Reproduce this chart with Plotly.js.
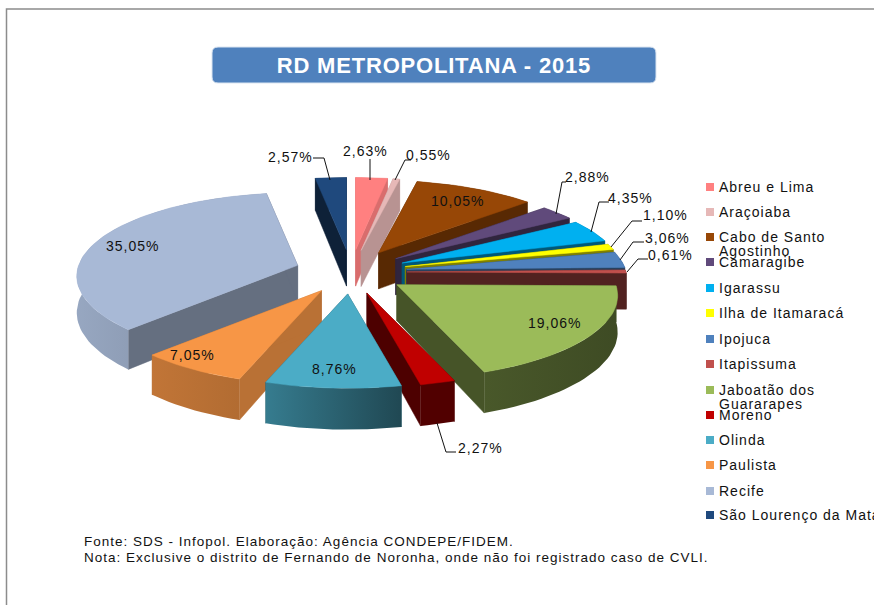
<!DOCTYPE html>
<html><head><meta charset="utf-8">
<script src="https://cdn.plot.ly/plotly-3.0.1.min.js"></script>
<style>
html,body{margin:0;padding:0;background:#fff;overflow:hidden}
.annotation-text{letter-spacing:1px}
.gtitle{letter-spacing:.8px}
</style></head><body><div id="chart" style="width:874px;height:605px"></div>
<script>
const categories = ["Abreu e Lima","Araçoiaba","Cabo de Santo Agostinho","Camaragibe","Igarassu","Ilha de Itamaracá","Ipojuca","Itapissuma","Jaboatão dos Guararapes","Moreno","Olinda","Paulista","Recife","São Lourenço da Mata"];
const legendLabels = [["Abreu e Lima"],["Araçoiaba"],["Cabo de Santo","Agostinho"],["Camaragibe"],["Igarassu"],["Ilha de Itamaracá"],["Ipojuca"],["Itapissuma"],["Jaboatão dos","Guararapes"],["Moreno"],["Olinda"],["Paulista"],["Recife"],["São Lourenço da Mata"]];
const values = [2.63,0.55,10.05,2.88,4.35,1.10,3.06,0.61,19.06,2.27,8.76,7.05,35.05,2.57];
const colors = ["#FF8080","#E6B8B7","#974706","#604A7B","#00B0F0","#FFFF00","#4F81BD","#C0504D","#9BBB59","#C00000","#4BACC6","#F79646","#A8B9D6","#1F497D"];
const cutShade = [.85,.8,.58,.5,.5,.5,.5,.42,.45,.4,.55,.75,.6,.45];
const arcShadeL = [.85,.8,.58,.5,.5,.5,.5,.42,.47,.42,.72,.78,.9,.45];
const arcShadeR = [.85,.8,.58,.5,.5,.5,.5,.42,.40,.42,.42,.72,.72,.45];
const drawOrder = [13,0,1,2,3,4,5,6,7,8,12,11,9,10];

// projection of the exploded 3-D pie, in pixel units of the hidden axes
const C = {x:351,y:272,ex:56,ey:22,rx:219,ry:82,p:.13,depth:36};
const rad = d => d*Math.PI/180;
const persp = t => 1/(1+C.p*Math.cos(t));
function shade(hex,f){
  const n=parseInt(hex.slice(1),16);
  return `rgb(${Math.round((n>>16&255)*f)},${Math.round((n>>8&255)*f)},${Math.round((n&255)*f)})`;
}
const total = values.reduce((a,b)=>a+b,0);
let acc=0;
const slices = values.map((v,i)=>{
  const a0=acc/total*2*Math.PI; acc+=v; const a1=acc/total*2*Math.PI;
  const m=(a0+a1)/2;
  const ax=C.x+C.ex*Math.sin(m), ay=C.y-C.ey*Math.cos(m);
  const arc=[]; const n=Math.max(4,Math.ceil((a1-a0)/rad(2)));
  for(let k=0;k<=n;k++){
    const t=a0+(a1-a0)*k/n, s=persp(t);
    arc.push({x:ax+C.rx*Math.sin(t)*s,y:ay-C.ry*Math.cos(t)*s,d:C.depth*s});
  }
  return {i,ax,ay,arc};
});
const traces=[];
function poly(pts,name,color,grad){
  const t={type:"scatter",mode:"lines",x:pts.map(p=>p[0]).concat(pts[0][0]),y:pts.map(p=>p[1]).concat(pts[0][1]),
    fill:"toself",fillcolor:color,line:{width:.5,color:color},name:name,hoverinfo:"skip",showlegend:false};
  if(grad){t.fillgradient={type:"horizontal",colorscale:[[0,grad[0]],[1,grad[1]]]};t.line.width=0;}
  traces.push(t);
}
drawOrder.forEach(i=>{
  const s=slices[i], c=colors[i], nm=categories[i], cut=shade(c,cutShade[i]);
  const first=s.arc[0], last=s.arc[s.arc.length-1];
  [first,last].forEach(e=>poly([[s.ax,s.ay],[s.ax,s.ay+C.depth],[e.x,e.y+e.d],[e.x,e.y]],nm,cut));
  const top=s.arc.map(p=>[p.x,p.y]), bottom=s.arc.map(p=>[p.x,p.y+p.d]).reverse();
  poly(top.concat(bottom),nm,cut,[shade(c,arcShadeL[i]),shade(c,arcShadeR[i])]);
  poly([[s.ax,s.ay]].concat(top),nm,c);
});

const labelText = values.map(v=>v.toFixed(2).replace(".",",")+"%");
const labelX = [365,428,457,587,630,665,667,670,554,480,334,192,132,290];
const labelY = [151,155,201,177,198,215,238,255,323,448,369,355,246,157];
const leaderPaths = {
  0:"M370,180L370,159",1:"M395,180L405,160L411,160",3:"M556,214L562,182L566,182",4:"M591,232L599,202L609,202",
  5:"M611,247L632,221L642,221",6:"M620,260L633,242L644,242",7:"M627,272L638,259L648,259",
  9:"M437,423L446,452L456,452",13:"M330,180L324,158L313,158"};
const legendY = [187,212,237,262,288,313,339,364,390,415,440,465,491,515];
const font = "Liberation Sans, Arial, sans-serif";
const anns=[], shapes=[];
labelText.forEach((t,i)=>anns.push({xref:"x",yref:"y",x:labelX[i],y:labelY[i],text:t,showarrow:false,
  xanchor:"center",yanchor:"middle",font:{family:font,size:14,color:"#111"}}));
Object.keys(leaderPaths).forEach(k=>shapes.push({type:"path",xref:"x",yref:"y",path:leaderPaths[k],line:{color:"#111",width:1}}));
legendLabels.forEach((lines,i)=>{
  lines.forEach((t,j)=>anns.push({xref:"x",yref:"y",x:717,y:legendY[i]-.5+j*14,text:t,showarrow:false,xanchor:"left",yanchor:"middle",align:"left",
    font:{family:font,size:14,color:"#111"}}));
  shapes.push({type:"rect",xref:"x",yref:"y",x0:706,x1:714,y0:legendY[i]-4,y1:legendY[i]+4,fillcolor:colors[i],line:{width:0}});
});
["Fonte: SDS - Infopol. Elaboração: Agência CONDEPE/FIDEM.","Nota: Exclusive o distrito de Fernando de Noronha, onde não foi registrado caso de CVLI."]
 .forEach((t,i)=>anns.push({xref:"x",yref:"y",x:82,y:541+i*16,text:t,showarrow:false,xanchor:"left",yanchor:"middle",
   font:{family:font,size:13.5,color:"#111"}}));
shapes.push({type:"path",xref:"x",yref:"y",path:"M874,9L6.5,9L6.5,605",line:{color:"#8c8c8c",width:1.5}});
shapes.push({type:"path",xref:"x",yref:"y",layer:"below",
  path:"M218,47L650,47Q656,47 656,53L656,77Q656,83 650,83L218,83Q212,83 212,77L212,53Q212,47 218,47Z",
  fillcolor:"#4F81BD",line:{color:"#dbe5f1",width:1}});
const layout={width:874,height:605,margin:{l:0,r:0,t:0,b:0},paper_bgcolor:"#fff",plot_bgcolor:"#fff",showlegend:false,
  title:{text:"<b>RD METROPOLITANA - 2015</b>",xref:"paper",yref:"paper",x:.4965,y:.892,xanchor:"center",yanchor:"middle",
    font:{family:font,size:22,color:"#fff"},automargin:false},
  xaxis:{range:[0,874],visible:false,fixedrange:true},
  yaxis:{range:[605,0],visible:false,fixedrange:true},
  annotations:anns,shapes:shapes};
Plotly.newPlot("chart",traces,layout,{displayModeBar:false,staticPlot:true});
</script></body></html>
